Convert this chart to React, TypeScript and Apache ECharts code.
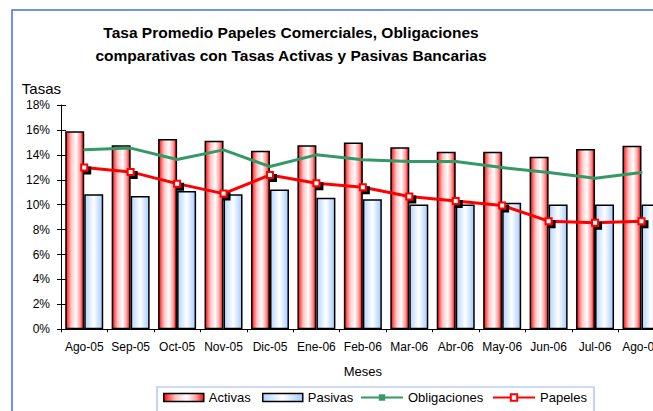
import React, { useEffect, useRef } from "react";
import * as echarts from "echarts";

const months = ["Ago-05", "Sep-05", "Oct-05", "Nov-05", "Dic-05", "Ene-06", "Feb-06", "Mar-06", "Abr-06", "May-06", "Jun-06", "Jul-06", "Ago-06"];
const activas = [15.9, 14.76, 15.27, 15.13, 14.32, 14.76, 15.0, 14.6, 14.24, 14.24, 13.84, 14.46, 14.73];
const pasivas = [10.83, 10.7, 11.1, 10.83, 11.21, 10.56, 10.43, 10.02, 10.02, 10.16, 10.02, 10.02, 10.02];
const obligaciones = [14.4, 14.54, 13.63, 14.4, 13.06, 14.0, 13.6, 13.47, 13.47, 12.98, 12.58, 12.12, 12.58];
const papeles = [12.98, 12.63, 11.69, 10.89, 12.39, 11.72, 11.4, 10.65, 10.29, 9.94, 8.68, 8.55, 8.68];

const FONT = "'Liberation Sans', Arial, sans-serif";

export default function App() {
  const ref = useRef<HTMLDivElement>(null);
  useEffect(() => {
    if (!ref.current) return;
    const chart = echarts.init(ref.current, null, { renderer: "svg" });
    const redGrad = new echarts.graphic.LinearGradient(0, 0, 1, 0, [
      { offset: 0, color: "#ff0000" },
      { offset: 0.12, color: "#ff5a5a" },
      { offset: 0.3, color: "#ffc4c4" },
      { offset: 0.58, color: "#ffffff" },
      { offset: 0.82, color: "#ff9c9c" },
      { offset: 1, color: "#ff0000" },
    ]);
    const blueGrad = new echarts.graphic.LinearGradient(0, 0, 1, 0, [
      { offset: 0, color: "#b4d6ff" },
      { offset: 0.5, color: "#ffffff" },
      { offset: 1, color: "#a6ccff" },
    ]);
    const legendBase = {
      top: 391,
      padding: 0,
      itemGap: 0,
      textStyle: { fontSize: 13, color: "#000", fontFamily: FONT },
      itemHeight: 8,
    };
    chart.setOption({
      animation: false,
      backgroundColor: "#fff",
      textStyle: { fontFamily: FONT },
      graphic: [
        {
          type: "rect",
          shape: { x: 12, y: 10, width: 720, height: 500 },
          style: { fill: "none", stroke: "#3f6ff0", lineWidth: 1.5 },
          silent: true,
          z: -1,
        },
        {
          type: "rect",
          shape: { x: 157, y: 387, width: 437, height: 40 },
          style: { fill: "none", stroke: "#9db8f2", lineWidth: 1.2 },
          silent: true,
          z: -1,
        },
        {
          type: "text",
          x: 291,
          y: 21,
          style: {
            text: "Tasa Promedio Papeles Comerciales, Obligaciones\ncomparativas con Tasas Activas y Pasivas Bancarias",
            align: "center",
            verticalAlign: "top",
            fontFamily: FONT,
            fontWeight: "bold",
            fontSize: 15.5,
            lineHeight: 23,
            fill: "#000",
          },
        },
      ],
      legend: [
        { ...legendBase, left: 163, data: [{ name: "Activas", icon: "rect" }], itemWidth: 40, itemStyle: { borderColor: "#000", borderWidth: 1.5 } },
        { ...legendBase, left: 262, data: [{ name: "Pasivas", icon: "rect" }], itemWidth: 40, itemStyle: { borderColor: "#000", borderWidth: 1.5 } },
        { ...legendBase, left: 360, data: ["Obligaciones"], itemWidth: 42 },
        { ...legendBase, left: 492, data: ["Papeles"], itemWidth: 42 },
      ],
      grid: { left: 61, right: 35.3, top: 105, bottom: 81.7 },
      xAxis: {
        type: "category",
        data: months,
        name: "Meses",
        nameLocation: "middle",
        nameGap: 36,
        nameTextStyle: { fontSize: 13, color: "#000", fontFamily: FONT },
        axisLine: { lineStyle: { color: "#000", width: 1 } },
        axisTick: { show: true, length: 3, lineStyle: { color: "#000" } },
        axisLabel: { color: "#000", fontSize: 12, margin: 12, fontFamily: FONT, interval: 0 },
      },
      yAxis: [
        {
          type: "value",
          min: 0,
          max: 18,
          interval: 2,
          name: "Tasas",
          nameLocation: "end",
          nameGap: 17,
          nameTextStyle: { fontSize: 15, color: "#000", align: "right", verticalAlign: "middle", fontFamily: FONT },
          axisLine: { show: true, lineStyle: { color: "#000", width: 1 } },
          axisTick: { show: true, length: 4, lineStyle: { color: "#000" } },
          axisLabel: { color: "#000", fontSize: 12, margin: 11, formatter: "{value}%", fontFamily: FONT },
          splitLine: { show: false },
        },
        {
          type: "value",
          min: 0,
          max: 18,
          interval: 2,
          position: "left",
          axisLine: { show: false },
          axisTick: { show: true, inside: true, length: 5, lineStyle: { color: "#000" } },
          axisLabel: { show: false },
          splitLine: { show: false },
        },
      ],
      series: [
        {
          name: "Activas",
          type: "bar",
          data: activas,
          barWidth: 19,
          barGap: "0%",
          itemStyle: { color: redGrad, borderColor: "#000", borderWidth: 1.5 },
          z: 2,
        },
        {
          name: "Pasivas",
          type: "bar",
          data: pasivas,
          barWidth: 19,
          barGap: "0%",
          itemStyle: { color: blueGrad, borderColor: "#000", borderWidth: 1.5 },
          z: 2,
        },
        {
          name: "Obligaciones",
          type: "line",
          data: obligaciones,
          symbol: "rect",
          symbolSize: 2,
          itemStyle: { color: "#339966" },
          lineStyle: { color: "#339966", width: 3 },
          z: 4,
        },
        {
          name: "Papeles",
          type: "line",
          data: papeles,
          symbol: "rect",
          symbolSize: 6,
          itemStyle: {
            color: "#fff",
            borderColor: "#ff0000",
            borderWidth: 2,
            shadowColor: "#000",
            shadowOffsetX: 3,
            shadowOffsetY: 3,
            shadowBlur: 0,
          },
          lineStyle: { color: "#ff0000", width: 3 },
          z: 5,
        },
      ],
    });
    return () => chart.dispose();
  }, []);
  return (
    <div style={{ position: "absolute", left: 0, top: 0, width: 653, height: 411, overflow: "hidden", background: "#fff" }}>
      <div ref={ref} style={{ width: 700, height: 411 }} />
    </div>
  );
}
